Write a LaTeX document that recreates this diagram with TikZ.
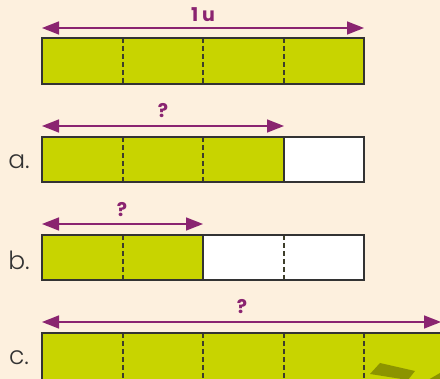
\documentclass[tikz,border=0pt]{standalone}
\usepackage{fontspec}
\setmainfont{Poppins}
\newfontfamily\lightfont{Poppins}[UprightFont=* Light]
\usetikzlibrary{arrows.meta}
\definecolor{bg}{HTML}{FDF0DE}
\definecolor{lime}{HTML}{C8D400}
\definecolor{plum}{HTML}{8A2470}
\definecolor{edge}{HTML}{333333}
\definecolor{olivedark}{HTML}{8C9400}
\tikzset{
  measure/.style={plum, line width=1.6pt, {Triangle[length=17pt,width=13pt]}-{Triangle[length=17pt,width=13pt]}},
  qlabel/.style={text=plum, font=\bfseries\fontsize{19}{19}\selectfont, inner sep=0pt},
  rowlabel/.style={text=edge, font=\lightfont\fontsize{25}{25}\selectfont, inner sep=0pt},
  part/.style={draw=edge, line width=1.5pt},
  divider/.style={draw=edge!85!olive, line width=1.3pt, dash pattern=on 5pt off 3pt},
}
\begin{document}
\begin{tikzpicture}[x=1pt,y=-1pt]
\fill[bg] (0,0) rectangle (440,379);
\useasboundingbox (0,0) rectangle (440,379);
% top bar
\coordinate (t1) at (42,28); \coordinate (t2) at (364,28);
\draw[measure] (t1) -- (t2);
\node[qlabel] (tl) at (203,15) {1\hspace{4pt}u};
\fill[lime] (42,38) rectangle (364,84);
\foreach \x in {123,203,284} \draw[divider] (\x,38) -- (\x,84);
\draw[part] (42,38) rectangle (364,84);
% a
\coordinate (a1) at (42,126); \coordinate (a2) at (284,126);
\draw[measure] (a1) -- (a2);
\node[qlabel] (al) at (163,111) {?};
\node[rowlabel] (an) at (19,162) {a.};
\fill[lime] (42,137) rectangle (284,182);
\fill[white] (284,137) rectangle (364,182);
\foreach \x in {123,203} \draw[divider] (\x,137) -- (\x,182);
\draw[part] (42,137) rectangle (364,182);
\draw[part] (284,137) -- (284,182);
% b
\coordinate (b1) at (42,224); \coordinate (b2) at (203,224);
\draw[measure] (b1) -- (b2);
\node[qlabel] (bl) at (122,210) {?};
\node[rowlabel] (bn) at (19,260) {b.};
\fill[lime] (42,235) rectangle (203,280);
\fill[white] (203,235) rectangle (364,280);
\foreach \x in {123,284} \draw[divider] (\x,235) -- (\x,280);
\draw[part] (42,235) rectangle (364,280);
\draw[part] (203,235) -- (203,280);
% c
\coordinate (c1) at (42,322); \coordinate (c2) at (441,322);
\draw[measure] (c1) -- (c2);
\node[qlabel] (cl) at (242,307) {?};
\node[rowlabel] (cn) at (19,358) {c.};
\fill[lime] (42,333) rectangle (445,383);
\foreach \x in {123,203,284,364} \draw[divider] (\x,333) -- (\x,383);
\fill[olivedark] (370,374) -- (380,363) -- (415,371) -- (408,380) -- cycle;
\fill[olivedark] (428,380) -- (440,373) -- (441,380) -- cycle;
\draw[part] (445,333) -- (42,333) -- (42,383);
\end{tikzpicture}
\end{document}
